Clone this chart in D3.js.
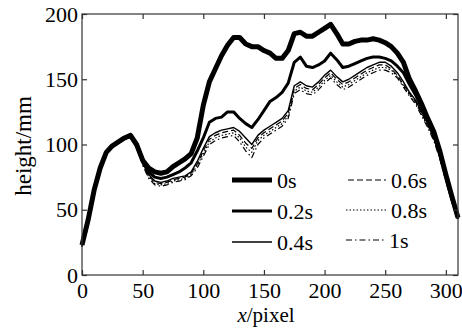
<!DOCTYPE html>
<html>
<head>
<meta charset="utf-8">
<script src="https://cdn.jsdelivr.net/npm/d3@7"></script>
<style>
body { margin: 0; background: #fff; }
text { font-family: "Liberation Serif", "Times New Roman", serif; fill: #000; }
</style>
</head>
<body>
<svg id="chart" width="462" height="329"></svg>
<script>
// x positions (pixel) shared by every curve
var xs = [0,5,10,15,20,25,30,35,40,45,50,55,60,65,70,75,80,85,90,95,100,105,110,115,120,125,130,135,140,145,150,155,160,165,170,175,180,185,190,195,200,205,210,215,220,225,230,235,240,245,250,255,260,265,270,275,280,285,290,295,300,305,310];

// heights (mm)
var h0 = [23,42,65,82,94,99,102,105,107,100,88,82,79,78,79,83,86,89,93,105,130,148,158,168,176,182,182,177,175,175,172,170,166,166,172,185,186,183,183,186,189,192,185,177,177,179,180,180,181,180,178,175,170,163,150,141,131,120,110,95,77,60,44];
var h02 = [23,42,65,82,94,99,102,105,106,99,87,79,75,74,75,77,79,82,86,95,105,117,120,121,125,125,120,116,113,119,126,133,136,140,147,163,167,160,159,161,164,170,165,159,160,162,164,166,167,167,166,164,160,155,146,138,128,118,108,93,75,58,43];
var h04 = [22,41,64,81,93,98,101,104,106,99,86,77,72,71,72,74,75,76,79,87,97,106,109,111,112,113,110,105,100,107,111,114,117,120,126,145,148,145,144,148,153,157,152,148,150,153,156,159,161,163,163,160,155,148,140,134,125,116,106,92,74,57,43];
var h06 = [22,41,64,81,93,98,101,104,106,99,85,76,71,70,71,73,74,75,78,85,95,104,107,109,110,111,107,101,97,105,109,112,115,118,124,143,146,143,142,146,151,155,150,146,148,151,154,157,159,161,161,158,153,146,139,133,124,115,105,91,73,57,43];
var h08 = [22,41,64,81,93,98,101,104,106,99,85,75,70,69,70,72,73,74,77,84,93,102,105,107,108,109,105,98,94,103,107,110,113,116,122,141,144,141,140,144,149,153,148,144,146,149,152,155,157,159,159,157,152,145,138,132,123,114,104,90,72,56,43];
var h1 = [22,41,64,81,93,98,101,104,106,99,84,74,69,68,69,71,72,73,76,82,91,100,103,105,106,107,102,95,90,100,105,108,111,114,120,139,142,139,138,142,147,151,146,142,144,147,150,153,155,157,157,155,151,144,137,131,122,113,103,89,72,56,43];

var seriesNames = ["0s","0.2s","0.4s","0.6s","0.8s","1s"];
var seriesVals = [h0,h02,h04,h06,h08,h1];
var xTicks = [0,50,100,150,200,250,300];
var yTicks = [0,50,100,150,200];

var styles = [
  {w: 5, dash: null},
  {w: 3, dash: null},
  {w: 1.4, dash: null},
  {w: 1.2, dash: "6,3"},
  {w: 1.2, dash: "1.5,2"},
  {w: 1.2, dash: "6,3,1.5,3"}
];

var svg = d3.select("#chart");
var pLeft = 82, pRight = 458, pTop = 14, pBottom = 275;

var x = d3.scaleLinear().domain([0,310]).range([pLeft,pRight]);
var y = d3.scaleLinear().domain([0,200]).range([pBottom,pTop]);

// curves
var line = d3.line()
  .x(function (d,i) { return x(xs[i]); })
  .y(function (d) { return y(d); });

// draw thin ones first so the thick lines sit on top
for (var k = seriesVals.length-1; k >= 0; k--) {
  svg.append("path")
    .attr("d", line(seriesVals[k]))
    .attr("fill","none")
    .attr("stroke","#000")
    .attr("stroke-width", styles[k].w)
    .attr("stroke-linejoin","round")
    .attr("stroke-dasharray", styles[k].dash);
}

// frame
svg.append("rect")
  .attr("x",pLeft).attr("y",pTop)
  .attr("width",pRight-pLeft).attr("height",pBottom-pTop)
  .attr("fill","none").attr("stroke","#333").attr("stroke-width",1.2);

// axes with inward ticks, mirrored top/right
var fs = "22px";
var xb = svg.append("g").attr("transform","translate(0,"+pBottom+")")
  .call(d3.axisBottom(x).tickValues(xTicks).tickSizeInner(-5).tickSizeOuter(0).tickPadding(7));
var xt = svg.append("g").attr("transform","translate(0,"+pTop+")")
  .call(d3.axisTop(x).tickValues(xTicks).tickSizeInner(-5).tickSizeOuter(0).tickFormat(""));
var yl = svg.append("g").attr("transform","translate("+pLeft+",0)")
  .call(d3.axisLeft(y).tickValues(yTicks).tickSizeInner(-5).tickSizeOuter(0).tickPadding(4));
var yr = svg.append("g").attr("transform","translate("+pRight+",0)")
  .call(d3.axisRight(y).tickValues(yTicks).tickSizeInner(-5).tickSizeOuter(0).tickFormat(""));

[xb,xt,yl,yr].forEach(function (g) {
  g.select(".domain").remove();
  g.selectAll("line").attr("stroke","#333").attr("stroke-width",1.2);
  g.selectAll("text").attr("font-size",fs)
    .attr("font-family","'Liberation Serif', 'Times New Roman', serif").attr("fill","#000");
});

// axis titles
svg.append("text")
  .attr("transform","translate(31,146) rotate(-90)")
  .attr("text-anchor","middle")
  .attr("font-size","23px")
  .text("height/mm");

var xl = svg.append("text")
  .attr("x",266).attr("y",322)
  .attr("text-anchor","middle")
  .attr("font-size","21px");
xl.append("tspan").attr("font-style","italic").text("x");
xl.append("tspan").text("/pixel");

// legend, two columns of three
var legPos = [
  {x1: 232, x2: 272, ty: 180},
  {x1: 232, x2: 272, ty: 211},
  {x1: 232, x2: 272, ty: 242},
  {x1: 348, x2: 386, ty: 180},
  {x1: 346, x2: 386, ty: 210},
  {x1: 346, x2: 384, ty: 240}
];
seriesNames.forEach(function (name, k) {
  var p = legPos[k];
  svg.append("line")
    .attr("x1",p.x1).attr("x2",p.x2).attr("y1",p.ty).attr("y2",p.ty)
    .attr("stroke","#000")
    .attr("stroke-width", styles[k].w)
    .attr("stroke-dasharray", styles[k].dash);
  svg.append("text")
    .attr("x", p.x2 + 5).attr("y", p.ty)
    .attr("dy","0.35em")
    .attr("font-size","22px")
    .text(name);
});
</script>
</body>
</html>
